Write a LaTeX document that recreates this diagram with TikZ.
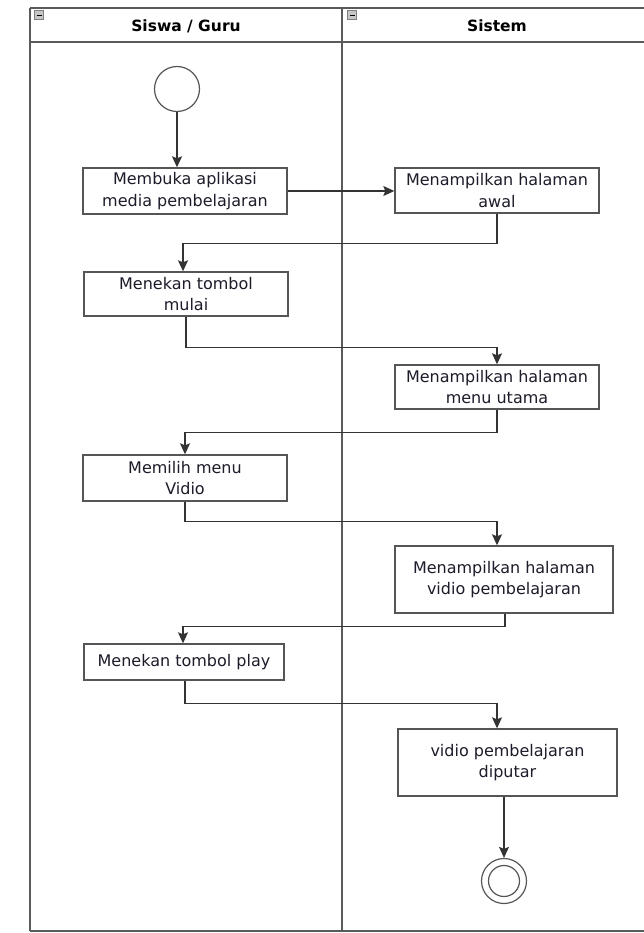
\documentclass[tikz,border=0pt]{standalone}
\usepackage{fontspec}
\setmainfont{DejaVu Sans}
\usetikzlibrary{arrows.meta}
\definecolor{lanec}{HTML}{5A5A5A}
\definecolor{boxc}{HTML}{555555}
\definecolor{linec}{HTML}{333333}
\definecolor{txtc}{HTML}{1C1C2A}
\tikzset{
  act/.style={draw=boxc, line width=1.4pt, fill=white, rectangle, inner sep=0pt,
    align=center, text=txtc, font=\fontsize{16}{21.5}\selectfont},
  conn/.style={draw=linec, line width=1.1pt, -{Stealth[length=11pt,width=10pt,inset=2pt]}},
  lane/.style={draw=lanec, line width=2pt},
  hdr/.style={font=\fontsize{15.5}{18}\selectfont\bfseries, text=black},
  icon/.style={draw=gray, fill=gray!45, line width=0.6pt, minimum size=8.5pt, inner sep=0pt}
}
\begin{document}
\begin{tikzpicture}[x=1pt,y=-1pt]
\useasboundingbox (0,0) rectangle (644,933);
% swimlanes
\draw[lane] (30,8) -- (644,8);
\draw[lane] (30,42) -- (644,42);
\draw[lane] (30,8) -- (30,931);
\draw[lane] (342,8) -- (342,931);
\draw[lane] (30,931) -- (644,931);
\node[hdr] (h1) at (186,26) {Siswa / Guru};
\node[hdr] (h2) at (497,26) {Sistem};
\node[icon] (i1) at (39,15) {};
\draw[black, line width=0.9pt] ([xshift=-2.5pt]i1.center) -- ([xshift=2.5pt]i1.center);
\node[icon] (i2) at (352,15) {};
\draw[black, line width=0.9pt] ([xshift=-2.5pt]i2.center) -- ([xshift=2.5pt]i2.center);
% start
\node[circle, draw=boxc, line width=1.2pt, minimum size=45pt, inner sep=0pt] (start) at (177,89) {};
% activities
\node[act, minimum width=204pt, minimum height=46pt] (b1) at (185,191) {Membuka aplikasi\\media pembelajaran};
\node[act, minimum width=204pt, minimum height=45pt] (b2) at (497,190.5) {Menampilkan halaman\\awal};
\node[act, minimum width=204pt, minimum height=44pt] (b3) at (186,294) {Menekan tombol\\mulai};
\node[act, minimum width=204pt, minimum height=44pt] (b4) at (497,387) {Menampilkan halaman\\menu utama};
\node[act, minimum width=204pt, minimum height=46pt] (b5) at (185,478) {Memilih menu\\Vidio};
\node[act, minimum width=218pt, minimum height=67pt] (b6) at (504,579.5) {Menampilkan halaman\\vidio pembelajaran};
\node[act, minimum width=200pt, minimum height=36pt] (b7) at (184,662) {Menekan tombol play};
\node[act, minimum width=219pt, minimum height=67pt] (b8) at (507.5,762.5) {vidio pembelajaran\\diputar};
% end
\node[circle, draw=boxc, line width=1.2pt, minimum size=45pt, inner sep=0pt] (end) at (504,881) {};
\node[circle, draw=boxc, line width=1.2pt, minimum size=31pt, inner sep=0pt] (endin) at (end.center) {};
% connectors
\draw[conn] (start.south) -- (b1.north -| start.south);
\draw[conn] (b1.east) -- (b2.west |- b1.east);
\draw[conn] (b2.south) -- ++(0,30) -| ([xshift=-3pt]b3.north);
\draw[conn] (b3.south) -- ++(0,31) -| (b4.north);
\draw[conn] (b4.south) -- ++(0,23) -| (b5.north);
\draw[conn] (b5.south) -- ++(0,20) -| (b6.north -| b4.south);
\draw[conn] ([xshift=1pt]b6.south) -- ++(0,13) -| ([xshift=-1pt]b7.north);
\draw[conn] ([xshift=1pt]b7.south) -- ++(0,23) -| (b8.north -| b4.south);
\draw[conn] (b8.south -| end.north) -- (end.north);
\end{tikzpicture}
\end{document}
